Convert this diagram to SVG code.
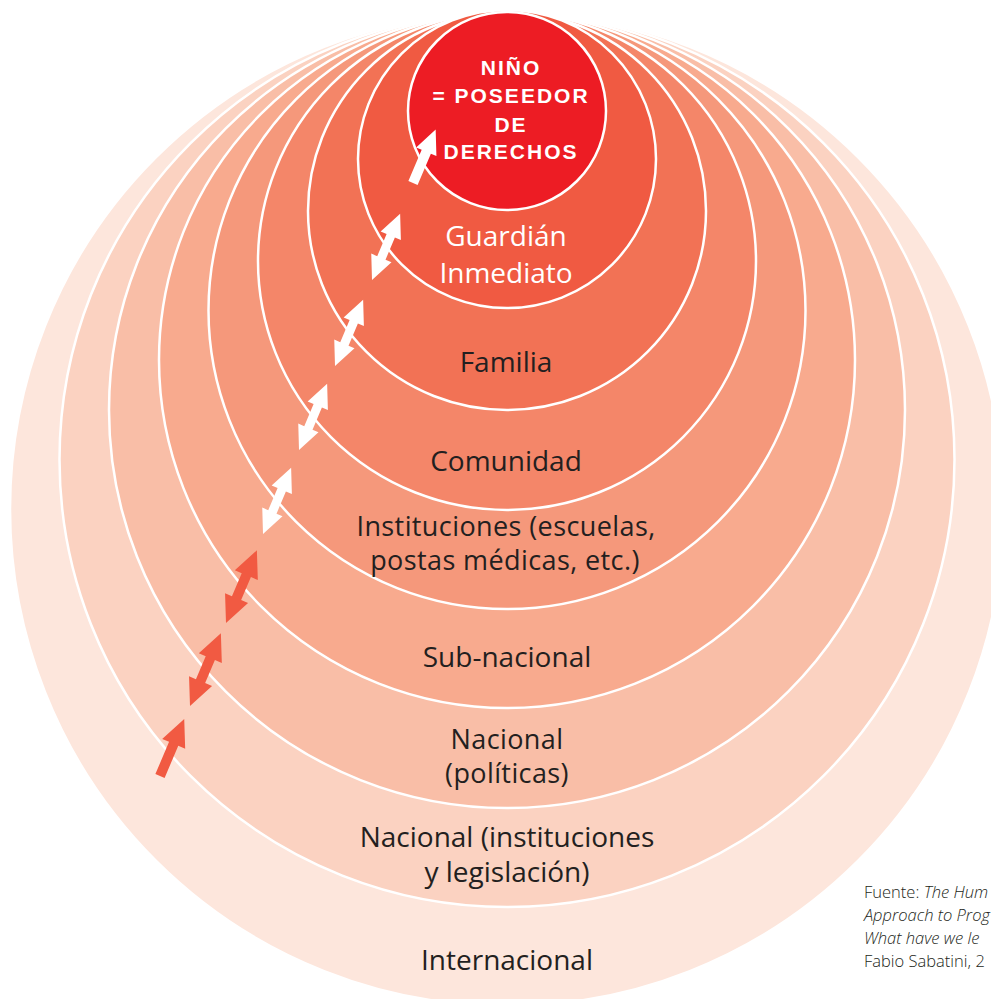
<svg xmlns="http://www.w3.org/2000/svg" xmlns:xlink="http://www.w3.org/1999/xlink" width="991" height="999" viewBox="0 0 991 999">
  <style>
    .ring { stroke: #FFFFFF; stroke-width: 2.5; }
    .lbl { font-family: "Open Sans", "Liberation Sans", sans-serif; font-size: 28px; fill: #231F20; text-anchor: middle; }
    .lbl2 { font-family: "Open Sans", "Liberation Sans", sans-serif; font-size: 27px; letter-spacing: 0.4px; fill: #231F20; text-anchor: middle; }
    .lblw { font-family: "Open Sans", "Liberation Sans", sans-serif; font-size: 28px; fill: #FFFFFF; text-anchor: middle; }
    .core { font-family: "Liberation Sans", Arial, sans-serif; font-weight: bold; font-size: 21px; fill: #FFFFFF; text-anchor: middle; letter-spacing: 2px; }
    .src { font-family: "Open Sans", "Liberation Sans", sans-serif; font-weight: 300; font-size: 16.5px; fill: #231F20; }
    .arw { fill: #FFFFFF; }
    .arr { fill: #F15A42; }
  </style>
  <defs>
    <path id="dblW" d="M0,0 L24,-11 L24,-4.5 L48,-4.5 L48,-11 L72,0 L48,11 L48,4.5 L24,4.5 L24,11 Z"/>
    <path id="dblR" d="M0,0 L27,-12.5 L27,-5 L52,-5 L52,-12.5 L79,0 L52,12.5 L52,5 L27,5 L27,12.5 Z"/>
    <path id="sglW" d="M0,-5 L34,-5 L34,-11 L58,0 L34,11 L34,5 L0,5 Z"/>
    <path id="sglR" d="M0,-5 L35,-5 L35,-12.5 L62,0 L35,12.5 L35,5 L0,5 Z"/>
  </defs>
  <rect x="0" y="0" width="991" height="999" fill="#FFFFFF"/>

  <g id="internacional">
    <circle class="ring" cx="507" cy="509" r="497" fill="#FDE6DC"/>
    <text class="lbl" x="507" y="970">Internacional</text>
  </g>
  <g id="nacional-instituciones">
    <circle class="ring" cx="507" cy="459.5" r="447.5" fill="#FBD2C1"/>
    <text class="lbl" x="507" y="847">Nacional (instituciones<tspan x="507" dy="35">y legislación)</tspan></text>
  </g>
  <g id="nacional-politicas">
    <circle class="ring" cx="507" cy="410" r="398" fill="#F9BEA7"/>
    <text class="lbl2" x="507" y="749">Nacional<tspan x="507" dy="34">(políticas)</tspan></text>
  </g>
  <g id="sub-nacional">
    <circle class="ring" cx="507" cy="360" r="348" fill="#F8AA8E"/>
    <text class="lbl" x="507" y="667">Sub-nacional</text>
  </g>
  <g id="instituciones">
    <circle class="ring" cx="507" cy="310.5" r="298.5" fill="#F5987B"/>
    <text class="lbl2" x="506" y="536">Instituciones (escuelas,<tspan x="505" dy="34">postas médicas, etc.)</tspan></text>
  </g>
  <g id="comunidad">
    <circle class="ring" cx="507" cy="261" r="249" fill="#F48669"/>
    <text class="lbl" x="506" y="471">Comunidad</text>
  </g>
  <g id="familia">
    <circle class="ring" cx="507" cy="211" r="199" fill="#F27255"/>
    <text class="lbl" x="506" y="372">Familia</text>
  </g>
  <g id="guardian">
    <circle class="ring" cx="507" cy="159" r="149" fill="#F05A42"/>
    <text class="lblw" x="506" y="246">Guardián<tspan x="506" dy="37">Inmediato</tspan></text>
  </g>
  <g id="nino">
    <circle class="ring" cx="507" cy="111" r="99" fill="#ED1C24"/>
    <text class="core" x="511" y="75">NIÑO<tspan x="511" dy="28">= POSEEDOR</tspan><tspan x="511" dy="29">DE</tspan><tspan x="511" dy="27">DERECHOS</tspan></text>
  </g>

  <g id="connectors">
    <use xlink:href="#sglW" class="arw" transform="translate(413,183) rotate(-67)"/>
    <use xlink:href="#dblW" class="arw" transform="translate(372,280) rotate(-67)"/>
    <use xlink:href="#dblW" class="arw" transform="translate(335,366) rotate(-67)"/>
    <use xlink:href="#dblW" class="arw" transform="translate(299,450) rotate(-67)"/>
    <use xlink:href="#dblW" class="arw" transform="translate(263,534) rotate(-67)"/>
    <use xlink:href="#dblR" class="arr" transform="translate(226,623) rotate(-67)"/>
    <use xlink:href="#dblR" class="arr" transform="translate(190,706) rotate(-67)"/>
    <use xlink:href="#sglR" class="arr" transform="translate(160,776) rotate(-67)"/>
  </g>

  <g id="fuente">
    <text class="src" x="864" y="898">Fuente: <tspan font-style="italic">The Hum</tspan><tspan x="864" dy="23" font-style="italic">Approach to Prog</tspan><tspan x="864" dy="23" font-style="italic">What have we le</tspan><tspan x="864" dy="23">Fabio Sabatini, 2</tspan></text>
  </g>
</svg>
